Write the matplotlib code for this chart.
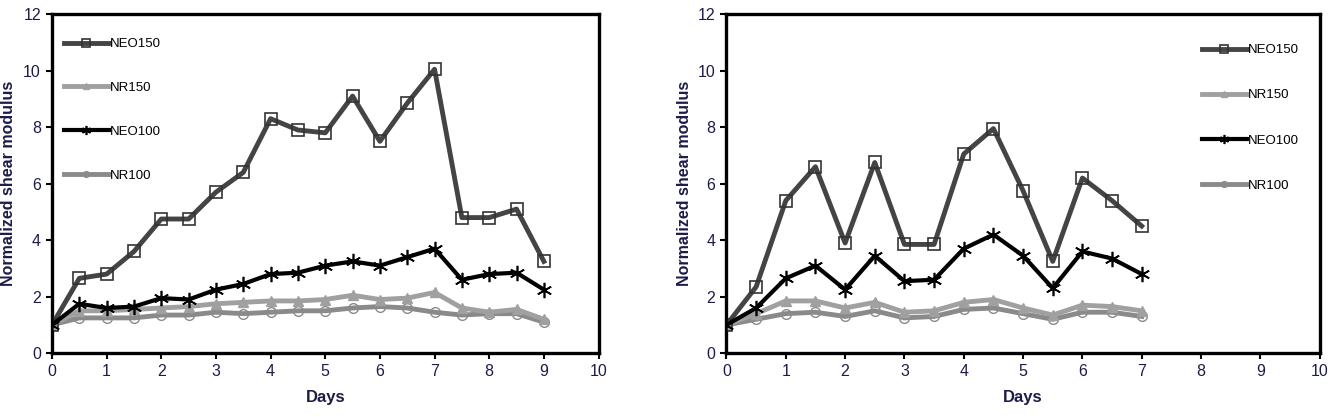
import numpy as np
import matplotlib
matplotlib.use("Agg")
import matplotlib.pyplot as plt

plt.rcParams['font.family'] = ['Liberation Sans', 'DejaVu Sans']

# ---- data ----
days_a = [0, 0.5, 1, 1.5, 2, 2.5, 3, 3.5, 4, 4.5, 5, 5.5, 6, 6.5, 7, 7.5, 8, 8.5, 9]
neo150_a = [1, 2.65, 2.8, 3.6, 4.75, 4.75, 5.7, 6.4, 8.3, 7.9, 7.8, 9.1, 7.5, 8.85, 10.05, 4.8, 4.8, 5.1, 3.25]
nr150_a = [1, 1.5, 1.5, 1.55, 1.6, 1.65, 1.75, 1.8, 1.85, 1.85, 1.9, 2.05, 1.9, 1.95, 2.15, 1.6, 1.45, 1.55, 1.2]
neo100_a = [1, 1.75, 1.6, 1.65, 1.95, 1.9, 2.25, 2.45, 2.8, 2.85, 3.1, 3.25, 3.1, 3.4, 3.7, 2.6, 2.8, 2.85, 2.25]
nr100_a = [1, 1.25, 1.25, 1.25, 1.35, 1.35, 1.45, 1.4, 1.45, 1.5, 1.5, 1.6, 1.65, 1.6, 1.45, 1.35, 1.4, 1.4, 1.1]

days_b = [0, 0.5, 1, 1.5, 2, 2.5, 3, 3.5, 4, 4.5, 5, 5.5, 6, 6.5, 7]
neo150_b = [1, 2.35, 5.4, 6.6, 3.9, 6.75, 3.85, 3.85, 7.05, 7.95, 5.75, 3.25, 6.2, 5.4, 4.5]
nr150_b = [1, 1.4, 1.85, 1.85, 1.6, 1.8, 1.45, 1.5, 1.8, 1.9, 1.6, 1.35, 1.7, 1.65, 1.5]
neo100_b = [1, 1.6, 2.65, 3.1, 2.25, 3.45, 2.55, 2.6, 3.7, 4.2, 3.45, 2.3, 3.6, 3.35, 2.8]
nr100_b = [1, 1.2, 1.4, 1.45, 1.3, 1.5, 1.25, 1.3, 1.55, 1.6, 1.4, 1.2, 1.45, 1.45, 1.3]

labels = ['NEO150', 'NR150', 'NEO100', 'NR100']
txt = '#1c1c4a'

styles = [
    dict(color='#444444', marker='s', mfc='none', mec='#333333', ms=9, mew=1.2, lw=3.5, zorder=4),
    dict(color='#a0a0a0', marker='^', mfc='#a0a0a0', mec='#a0a0a0', ms=7, lw=3.5, zorder=3),
    dict(color='black', marker=(6, 2, 0), mfc='none', mec='black', ms=11, mew=1.2, lw=3, zorder=5),
    dict(color='#8a8a8a', marker='o', mfc='none', mec='#8a8a8a', ms=7, lw=3.5, zorder=2),
]

fig = plt.figure(figsize=(13.33, 4.17), dpi=100)
ax1 = fig.add_axes([0.039, 0.153, 0.41, 0.813])
ax2 = fig.add_axes([0.545, 0.153, 0.445, 0.813])

series = [(days_a, [neo150_a, nr150_a, neo100_a, nr100_a]),
          (days_b, [neo150_b, nr150_b, neo100_b, nr100_b])]

for ax, (x, ys) in zip([ax1, ax2], series):
    for y, lab, st in zip(ys, labels, styles):
        ax.plot(x, y, label=lab, **st)
    ax.set_xlim(0, 10)
    ax.set_ylim(0, 12)
    ax.set_xticks(range(0, 11))
    ax.set_yticks(range(0, 13, 2))
    for s in ax.spines.values():
        s.set_linewidth(2.4)
    ax.tick_params(direction='out', length=4, width=1.5, labelsize=11.5,
                   labelcolor=txt, pad=4)
    ax.set_xlabel('Days', fontsize=12, fontweight='bold', color=txt, labelpad=8)
    ax.set_ylabel('Normalized shear modulus', fontsize=11.5, fontweight='bold', color=txt)

ax1.yaxis.set_label_coords(-0.066, 0.5)
ax2.yaxis.set_label_coords(-0.058, 0.5)

leg_kw = dict(frameon=False, fontsize=9.5, handlelength=3.4,
              handletextpad=0.1, markerscale=0.6)
ax1.legend(loc='upper left', bbox_to_anchor=(0.0, 0.965), labelspacing=2.4, **leg_kw)
ax2.legend(loc='upper right', bbox_to_anchor=(0.985, 0.947), labelspacing=2.5, **leg_kw)

fig.savefig('out.png', dpi=100)
